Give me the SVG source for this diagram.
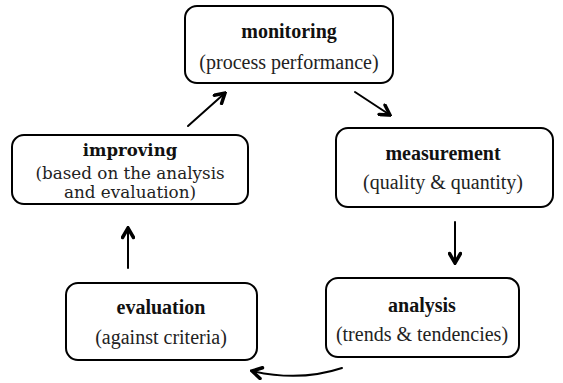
<svg xmlns="http://www.w3.org/2000/svg" width="563" height="383" viewBox="0 0 563 383">
  <style>
    .box { fill: #ffffff; stroke: #000000; stroke-width: 2; }
    .title { font-family: "Liberation Serif", "Times New Roman", serif; font-weight: bold; font-size: 20px; fill: #111; text-anchor: middle; }
    .sub { font-family: "Liberation Serif", "Times New Roman", serif; font-size: 20px; fill: #222; text-anchor: middle; }
    .titleAlt { font-family: "DejaVu Serif", serif; font-weight: bold; font-size: 16.5px; fill: #111; text-anchor: middle; }
    .subAlt { font-family: "DejaVu Serif", serif; font-size: 16.8px; fill: #222; text-anchor: middle; }
    .link { fill: none; stroke: #000000; stroke-width: 2; stroke-linecap: round; }
  </style>
  <defs>
    <marker id="head" viewBox="0 0 14 14" refX="12" refY="7" markerWidth="14" markerHeight="14" markerUnits="userSpaceOnUse" orient="auto">
      <path d="M2.5,1.5 L12,7 L2.5,12.5" fill="none" stroke="#000" stroke-width="3.5" stroke-linejoin="miter" stroke-linecap="round"/>
    </marker>
  </defs>

  <g id="monitoring">
    <rect class="box" x="185" y="6" width="208" height="77" rx="12"/>
    <text class="title" x="289" y="38">monitoring</text>
    <text class="sub" x="289" y="69">(process performance)</text>
  </g>

  <g id="measurement">
    <rect class="box" x="336" y="128" width="217" height="79" rx="12"/>
    <text class="title" x="443" y="160">measurement</text>
    <text class="sub" x="443" y="189">(quality &amp; quantity)</text>
  </g>

  <g id="analysis">
    <rect class="box" x="326" y="278" width="193" height="79" rx="12"/>
    <text class="title" x="422" y="312">analysis</text>
    <text class="sub" x="422" y="341">(trends &amp; tendencies)</text>
  </g>

  <g id="evaluation">
    <rect class="box" x="66" y="283" width="191" height="77" rx="12"/>
    <text class="title" x="161" y="314">evaluation</text>
    <text class="sub" x="161" y="344">(against criteria)</text>
  </g>

  <g id="improving">
    <rect class="box" x="12" y="135" width="236" height="69" rx="12"/>
    <text class="titleAlt" x="130" y="156">improving</text>
    <text class="subAlt" x="130" y="179">(based on the analysis</text>
    <text class="subAlt" x="130" y="198">and evaluation)</text>
  </g>

  <g id="connectors">
    <path class="link" d="M355,92 L390,115" marker-end="url(#head)"/>
    <path class="link" d="M455,222 L455,263" marker-end="url(#head)"/>
    <path class="link" d="M342,368 Q300,382 252,371" marker-end="url(#head)"/>
    <path class="link" d="M128,268 L128,228" marker-end="url(#head)"/>
    <path class="link" d="M188,126 L225,93" marker-end="url(#head)"/>
  </g>
</svg>
